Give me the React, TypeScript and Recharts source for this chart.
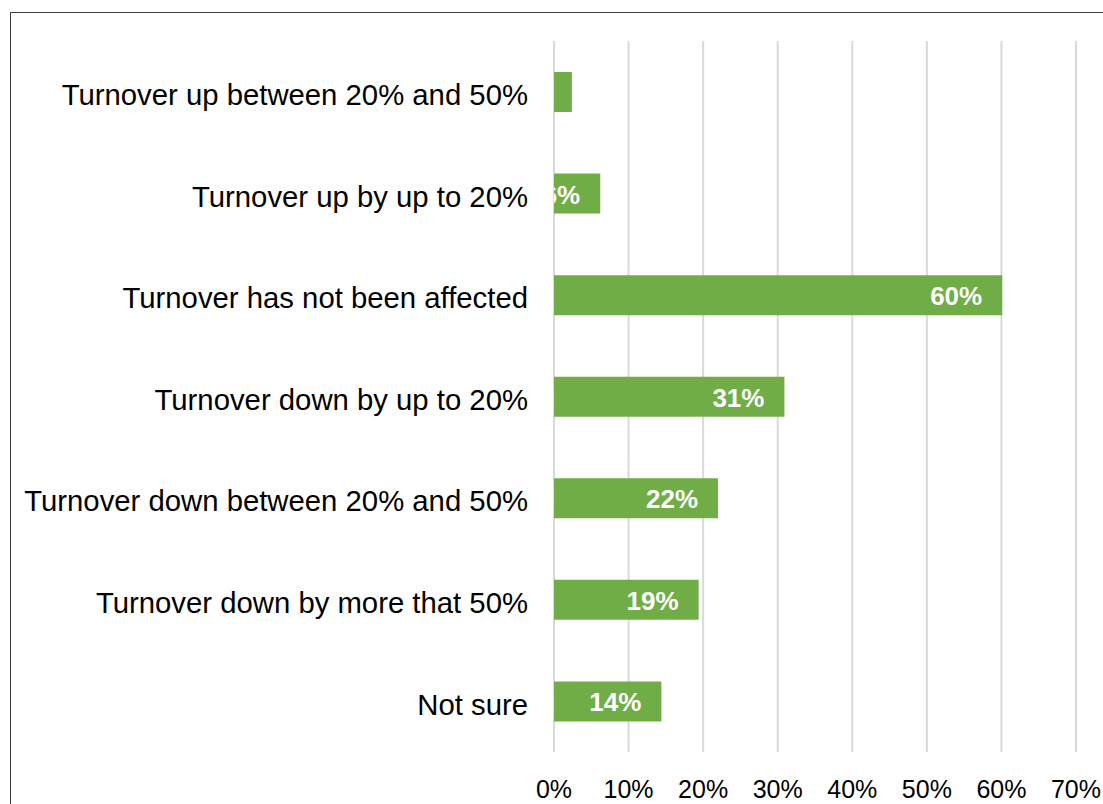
import { BarChart, Bar, XAxis, YAxis, CartesianGrid, LabelList } from "recharts";

const categories = [
  "Turnover up between 20% and 50%",
  "Turnover up by up to 20%",
  "Turnover has not been affected",
  "Turnover down by up to 20%",
  "Turnover down between 20% and 50%",
  "Turnover down by more that 50%",
  "Not sure",
];
const shares = [2.4, 6.2, 60.1, 30.9, 22.0, 19.4, 14.4];
const xTicks = [0, 10, 20, 30, 40, 50, 60, 70];

const data = categories.map((name, i) => ({ name, value: shares[i] }));

const FONT = '"Liberation Sans", Arial, sans-serif';

function BarLabel(props: any) {
  const { x, y, width, height, value } = props;
  // label sits 20px inside the bar end; bars too short to hold any of it show nothing
  if (width - 20 <= 0) return null;
  const id = `lbl-clip-${Math.round(y)}`;
  return (
    <g>
      <defs>
        <clipPath id={id}>
          <rect x={x} y={y} width={width} height={height} />
        </clipPath>
      </defs>
      <text
        x={x + width - 20}
        y={y + height / 2 + 1}
        textAnchor="end"
        dominantBaseline="central"
        fill="#ffffff"
        fontWeight="bold"
        fontSize={26}
        fontFamily={FONT}
        clipPath={`url(#${id})`}
      >
        {Math.round(value)}%
      </text>
    </g>
  );
}

export default function App() {
  return (
    <div
      style={{
        position: "fixed",
        left: 0,
        top: 0,
        width: 1103,
        height: 804,
        overflow: "hidden",
        background: "#fff",
      }}
    >
      <div
        style={{
          position: "absolute",
          left: 10,
          top: 12,
          width: 1200,
          height: 900,
          border: "1px solid #404040",
          fontFamily: FONT,
        }}
      >
        <BarChart
          layout="vertical"
          width={1130}
          height={799}
          data={data}
          margin={{ top: 28, right: 65, bottom: 0, left: 0 }}
        >
          <CartesianGrid horizontal={false} stroke="#d9d9d9" strokeWidth={2} />
          <XAxis
            type="number"
            domain={[0, 70]}
            ticks={xTicks}
            tickFormatter={(v) => `${v}%`}
            axisLine={false}
            tickLine={false}
            tickSize={6}
            tickMargin={22}
            height={60}
            interval={0}
            tick={{ fill: "#000", fontSize: 25, fontFamily: FONT }}
          />
          <YAxis
            type="category"
            dataKey="name"
            width={543}
            axisLine={false}
            tickLine={false}
            tickSize={6}
            tickMargin={20}
            interval={0}
            tick={{ fill: "#000", fontSize: 29.3, fontFamily: FONT, dy: 3 }}
          />
          <Bar dataKey="value" fill="#70ad47" barSize={40} isAnimationActive={false}>
            <LabelList dataKey="value" content={BarLabel} />
          </Bar>
        </BarChart>
      </div>
    </div>
  );
}
